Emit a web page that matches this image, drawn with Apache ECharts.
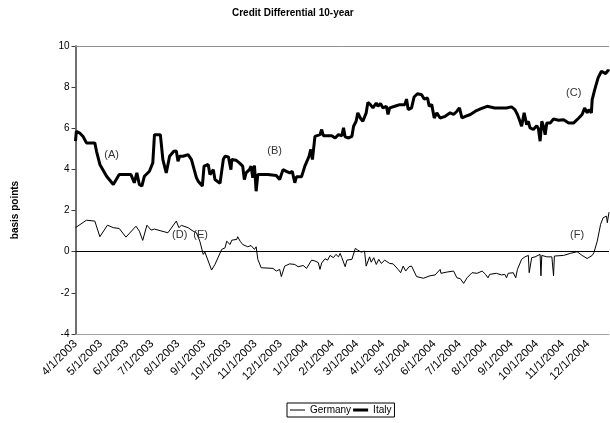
<!DOCTYPE html>
<html>
<head>
<meta charset="utf-8">
<script src="https://cdn.jsdelivr.net/npm/echarts@6/dist/echarts.min.js"></script>
<style>
html,body{margin:0;padding:0;background:#fff;}
#chart{width:610px;height:423px;}
</style>
</head>
<body>
<div id="chart"></div>
<script>
const titleText = 'Credit Differential 10-year';
const yAxisTitle = 'basis points';
const seriesNames = ['Germany', 'Italy'];
const xTickLabels = ['4/1/2003','5/1/2003','6/1/2003','7/1/2003','8/1/2003','9/1/2003','10/1/2003','11/1/2003','12/1/2003','1/1/2004','2/1/2004','3/1/2004','4/1/2004','5/1/2004','6/1/2004','7/1/2004','8/1/2004','9/1/2004','10/1/2004','11/1/2004','12/1/2004'];
const xMin = '2003-04-01';
const xMax = '2004-12-26';

const germany = [
['2003-04-01',1.17],['2003-04-14',1.53],['2003-04-24',1.49],['2003-04-30',0.73],['2003-05-09',1.29],['2003-05-16',1.17],['2003-05-23',1.13],['2003-05-31',0.71],['2003-06-12',1.24],['2003-06-16',1.0],['2003-06-20',0.55],['2003-06-25',1.29],['2003-06-30',1.05],['2003-07-04',1.1],['2003-07-20',0.92],['2003-07-30',1.49],['2003-08-02',1.17],['2003-08-05',1.28],['2003-08-13',1.17],['2003-08-19',1.0],['2003-08-23',0.92],['2003-08-27',0.51],['2003-08-31',-0.13],['2003-09-02',-0.02],['2003-09-10',-0.89],['2003-09-14',-0.62],['2003-09-16',-0.70],['2003-09-22',0.11],['2003-09-26',0.19],['2003-09-28',0.51],['2003-10-02',0.35],['2003-10-04',0.56],['2003-10-10',0.60],['2003-10-11',0.73],['2003-10-14',0.51],['2003-10-17',0.35],['2003-10-23',0.24],['2003-10-27',0.30],['2003-10-31',0.11],['2003-11-02',0.24],['2003-11-04',-0.37],['2003-11-08',-0.78],['2003-11-22',-0.81],['2003-11-26',-0.94],['2003-11-30',-0.86],['2003-12-02',-1.21],['2003-12-06',-0.70],['2003-12-12',-0.59],['2003-12-18',-0.62],['2003-12-22',-0.73],['2003-12-28',-0.67],['2004-01-01',-0.81],['2004-01-07',-0.41],['2004-01-11',-0.45],['2004-01-15',-0.53],['2004-01-17',-0.86],['2004-01-19',-0.55],['2004-01-23',-0.34],['2004-01-26',-0.41],['2004-01-29',-0.18],['2004-02-02',-0.29],['2004-02-05',-0.13],['2004-02-08',-0.25],['2004-02-10',-0.08],['2004-02-12',-0.29],['2004-02-14',-0.25],['2004-02-16',-0.73],['2004-02-18',-0.41],['2004-02-24',-0.37],['2004-02-28',0.16],['2004-03-02',0.08],['2004-03-06',-0.02],['2004-03-10',0.03],['2004-03-12',-0.70],['2004-03-16',-0.25],['2004-03-18',-0.51],['2004-03-21',-0.29],['2004-03-24',-0.62],['2004-03-27',-0.37],['2004-03-30',-0.57],['2004-04-03',-0.41],['2004-04-09',-0.57],['2004-04-13',-0.59],['2004-04-19',-0.86],['2004-04-22',-1.02],['2004-04-25',-0.70],['2004-04-28',-0.94],['2004-05-02',-0.73],['2004-05-05',-0.70],['2004-05-11',-1.21],['2004-05-19',-1.29],['2004-05-27',-1.17],['2004-06-02',-1.13],['2004-06-08',-0.86],['2004-06-09',-1.05],['2004-06-16',-0.99],['2004-06-24',-0.94],['2004-06-26',-0.86],['2004-06-28',-1.27],['2004-07-02',-1.31],['2004-07-06',-1.54],['2004-07-10',-1.27],['2004-07-16',-1.02],['2004-07-22',-1.05],['2004-07-28',-0.94],['2004-08-01',-1.10],['2004-08-04',-1.27],['2004-08-06',-1.10],['2004-08-14',-1.05],['2004-08-20',-1.13],['2004-08-24',-1.10],['2004-08-26',-1.27],['2004-08-28',-1.05],['2004-09-03',-1.02],['2004-09-06',-1.27],['2004-09-08',-0.86],['2004-09-13',-0.37],['2004-09-17',-0.25],['2004-09-21',-0.18],['2004-09-22',-1.02],['2004-09-25',-0.29],['2004-09-29',-0.25],['2004-10-05',-0.13],['2004-10-06',-1.17],['2004-10-07',-0.18],['2004-10-13',-0.25],['2004-10-19',-0.25],['2004-10-21',-1.17],['2004-10-22',-0.21],['2004-11-02',-0.18],['2004-11-10',-0.08],['2004-11-18',0.0],['2004-11-24',-0.18],['2004-11-30',-0.33],['2004-12-06',-0.18],['2004-12-08',-0.05],['2004-12-12',0.51],['2004-12-16',1.33],['2004-12-19',1.65],['2004-12-23',1.73],['2004-12-24',1.41],['2004-12-26',1.92]
];

const italy = [
['2003-04-01',5.37],['2003-04-02',5.85],['2003-04-06',5.77],['2003-04-10',5.6],['2003-04-14',5.29],['2003-04-24',5.29],['2003-04-26',4.88],['2003-04-30',4.24],['2003-05-08',3.67],['2003-05-16',3.27],['2003-05-23',3.75],['2003-06-06',3.75],['2003-06-10',3.35],['2003-06-13',3.83],['2003-06-16',3.27],['2003-06-19',3.19],['2003-06-22',3.67],['2003-06-28',3.91],['2003-07-02',4.32],['2003-07-04',5.69],['2003-07-11',5.69],['2003-07-14',4.48],['2003-07-18',3.83],['2003-07-22',4.64],['2003-07-27',4.88],['2003-07-30',4.9],['2003-08-01',4.40],['2003-08-03',4.64],['2003-08-07',4.64],['2003-08-13',4.72],['2003-08-17',4.48],['2003-08-23',3.59],['2003-08-25',3.43],['2003-08-30',3.19],['2003-09-01',4.16],['2003-09-06',4.24],['2003-09-08',3.75],['2003-09-10',3.75],['2003-09-12',3.99],['2003-09-14',3.51],['2003-09-20',3.32],['2003-09-22',3.35],['2003-09-24',4.5],['2003-09-26',4.64],['2003-09-30',4.61],['2003-10-03',3.99],['2003-10-04',4.48],['2003-10-09',4.45],['2003-10-13',4.32],['2003-10-17',4.16],['2003-10-19',3.51],['2003-10-21',3.83],['2003-10-25',3.99],['2003-10-27',4.16],['2003-10-29',3.59],['2003-10-31',4.19],['2003-11-02',2.94],['2003-11-04',3.75],['2003-11-06',3.80],['2003-11-16',3.75],['2003-11-26',3.70],['2003-11-30',3.51],['2003-12-04',3.99],['2003-12-08',3.91],['2003-12-12',3.83],['2003-12-15',3.91],['2003-12-18',3.35],['2003-12-20',3.64],['2003-12-26',3.64],['2003-12-30',4.16],['2004-01-04',4.64],['2004-01-06',4.97],['2004-01-08',4.48],['2004-01-11',5.61],['2004-01-13',5.69],['2004-01-17',5.69],['2004-01-19',5.94],['2004-01-21',5.64],['2004-01-31',5.64],['2004-02-04',5.53],['2004-02-08',5.69],['2004-02-12',5.64],['2004-02-14',6.02],['2004-02-16',5.58],['2004-02-20',5.53],['2004-02-24',5.61],['2004-02-26',6.10],['2004-02-29',6.34],['2004-03-02',6.75],['2004-03-05',6.50],['2004-03-08',6.34],['2004-03-12',6.75],['2004-03-14',7.26],['2004-03-17',7.15],['2004-03-20',6.99],['2004-03-24',7.23],['2004-03-26',7.07],['2004-03-29',7.20],['2004-04-01',6.99],['2004-04-05',7.07],['2004-04-07',6.67],['2004-04-09',6.99],['2004-04-15',7.07],['2004-04-21',7.15],['2004-04-27',7.15],['2004-04-29',7.42],['2004-05-01',6.91],['2004-05-05',6.99],['2004-05-08',7.52],['2004-05-12',7.68],['2004-05-17',7.63],['2004-05-20',7.42],['2004-05-24',7.47],['2004-05-26',7.07],['2004-05-29',7.15],['2004-06-01',6.50],['2004-06-04',6.75],['2004-06-08',6.50],['2004-06-14',6.58],['2004-06-20',6.75],['2004-06-24',6.67],['2004-06-28',6.83],['2004-07-01',6.99],['2004-07-04',6.50],['2004-07-08',6.58],['2004-07-14',6.67],['2004-07-20',6.83],['2004-07-26',6.94],['2004-08-03',7.07],['2004-08-12',6.99],['2004-08-26',6.99],['2004-09-01',7.04],['2004-09-05',6.91],['2004-09-08',6.67],['2004-09-11',6.34],['2004-09-13',6.10],['2004-09-16',6.75],['2004-09-19',6.18],['2004-09-21',6.34],['2004-09-23',6.02],['2004-09-27',5.94],['2004-10-01',6.13],['2004-10-03',5.97],['2004-10-05',5.37],['2004-10-07',6.34],['2004-10-09',6.10],['2004-10-11',5.69],['2004-10-13',6.26],['2004-10-17',6.26],['2004-10-21',6.45],['2004-10-27',6.39],['2004-11-02',6.42],['2004-11-08',6.26],['2004-11-14',6.26],['2004-11-20',6.50],['2004-11-24',6.67],['2004-11-27',6.99],['2004-11-30',6.75],['2004-12-02',6.91],['2004-12-05',6.75],['2004-12-06',7.39],['2004-12-09',7.88],['2004-12-10',7.80],['2004-12-13',8.45],['2004-12-17',8.77],['2004-12-19',8.82],['2004-12-22',8.66],['2004-12-25',8.82],['2004-12-26',8.77]
];

const annotations = [
  ['(A)', '2003-05-14', 4.72],
  ['(B)', '2003-11-24', 4.88],
  ['(C)', '2004-11-14', 7.72],
  ['(D)', '2003-08-03', 0.80],
  ['(E)', '2003-08-28', 0.80],
  ['(F)', '2004-11-18', 0.80]
];

function isoToTime(s) {
  const p = s.split('-').map(Number);
  return new Date(p[0], p[1] - 1, p[2]).getTime();
}
function tickToTime(s) {
  const p = s.split('/').map(Number);
  return new Date(p[2], p[0] - 1, p[1]).getTime();
}
const tickValues = xTickLabels.map(tickToTime);
const toPoints = arr => arr.map(d => [isoToTime(d[0]), d[1]]);
const font = 'Liberation Sans, Arial, sans-serif';

// legend icons: a horizontal bar inside a 15x8 box (tiny corner triangles fix the box size)
const thinIcon = 'path://M0,0L0.01,0L0,0.01Z M0,3.5L15,3.5L15,4.5L0,4.5Z M15,8L14.99,8L15,7.99Z';
const thickIcon = 'path://M0,0L0.01,0L0,0.01Z M0,2.5L15,2.5L15,5.5L0,5.5Z M15,8L14.99,8L15,7.99Z';

const chart = echarts.init(document.getElementById('chart'));
chart.setOption({
  animation: false,
  backgroundColor: '#fff',
  textStyle: { fontFamily: font },
  title: {
    text: titleText, left: 227, top: 3,
    textStyle: { fontSize: 10, fontWeight: 'bold', color: '#000', fontFamily: font }
  },
  legend: {
    data: [{ name: seriesNames[0], icon: thinIcon }, { name: seriesNames[1], icon: thickIcon }],
    left: 287, top: 403,
    orient: 'horizontal', itemWidth: 15, itemHeight: 8, itemGap: 2,
    padding: [2, 3, 2, 3], borderColor: '#000', borderWidth: 1,
    textStyle: { fontSize: 10, color: '#000', fontFamily: font }
  },
  grid: { left: 75.5, right: 1, top: 46, bottom: 89, containLabel: false },
  xAxis: {
    type: 'value', min: isoToTime(xMin), max: isoToTime(xMax),
    axisLine: { onZero: false, lineStyle: { color: '#a0a0a0', width: 1 } },
    axisTick: { show: false },
    splitLine: { show: false },
    axisLabel: {
      customValues: tickValues, rotate: 45, fontSize: 11.5, color: '#000', margin: 8,
      fontFamily: font, hideOverlap: false,
      formatter: function (v) {
        const i = tickValues.indexOf(v);
        return i >= 0 ? xTickLabels[i] : '';
      }
    }
  },
  yAxis: {
    type: 'value', min: -4, max: 10, interval: 2,
    axisLine: { show: true, lineStyle: { color: '#404040', width: 1.5 } },
    axisTick: { show: true, length: 4, lineStyle: { color: '#404040' } },
    splitLine: { show: false },
    axisLabel: { fontSize: 10, color: '#000', margin: 6, fontFamily: font }
  },
  graphic: [{
    type: 'text', x: 15, y: 210, rotation: Math.PI / 2,
    style: { text: yAxisTitle, font: 'bold 10px ' + font, fill: '#000', align: 'center', verticalAlign: 'middle' }
  }],
  series: [
    {
      name: seriesNames[0], type: 'line', data: toPoints(germany), symbol: 'none',
      lineStyle: { color: '#000', width: 1 }, itemStyle: { color: '#000' },
      z: 3,
      markLine: {
        silent: true, symbol: 'none', label: { show: false },
        data: [
          { yAxis: 0, lineStyle: { color: '#000', width: 1, type: 'solid' } },
          { yAxis: 10, lineStyle: { color: '#909090', width: 1, type: 'solid' } }
        ]
      }
    },
    {
      name: seriesNames[1], type: 'line', data: toPoints(italy), symbol: 'none',
      lineStyle: { color: '#000', width: 3 }, itemStyle: { color: '#000' },
      z: 4,
      markPoint: {
        symbol: 'circle', symbolSize: 0, silent: true,
        label: { show: true, position: 'inside', fontSize: 11, color: '#333', fontFamily: font,
          formatter: function (p) { return p.name; } },
        data: annotations.map(a => ({ name: a[0], coord: [isoToTime(a[1]), a[2]] }))
      }
    }
  ]
});
</script>
</body>
</html>
